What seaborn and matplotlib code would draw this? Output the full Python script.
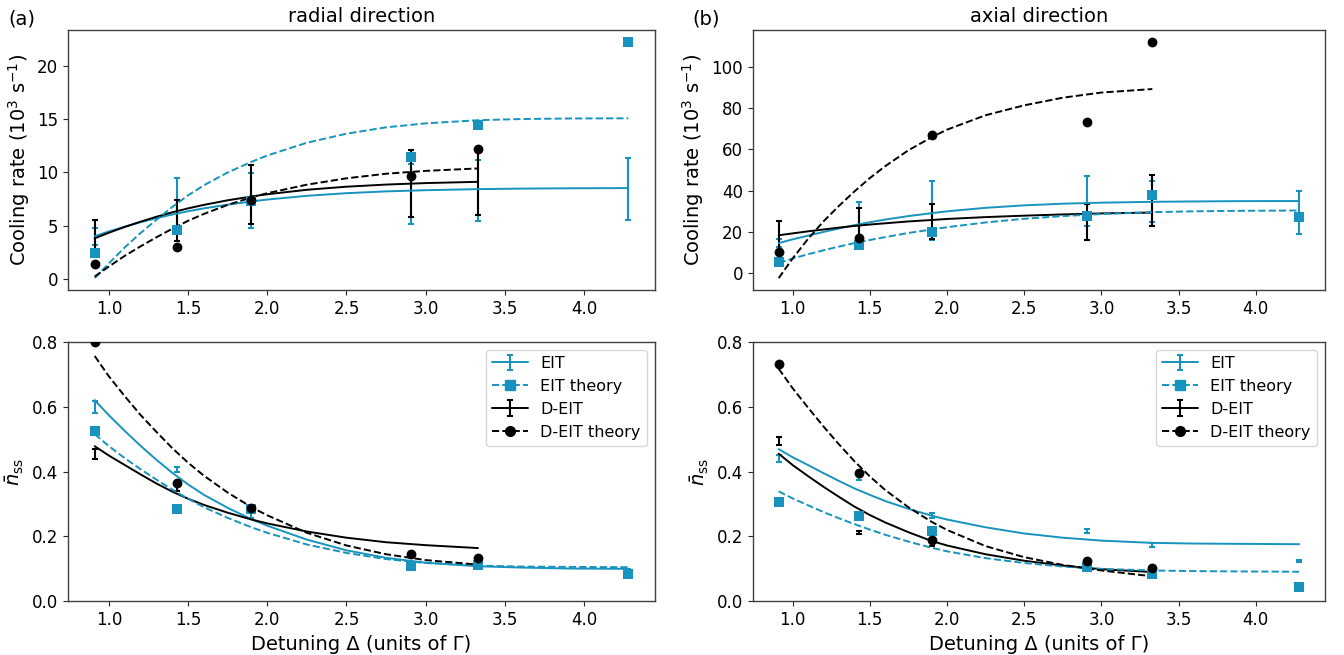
import numpy as np
import matplotlib
matplotlib.use("Agg")
import matplotlib.pyplot as plt
from matplotlib.lines import Line2D
import seaborn as sns

# ---------------- data ----------------
x_eit = [0.91, 1.43, 1.90, 2.91, 3.33, 4.28]
x_deit = [0.91, 1.43, 1.90, 2.91, 3.33]
xc_eit = [0.91, 1.0, 1.1, 1.2, 1.3, 1.4, 1.5, 1.6, 1.75, 1.9, 2.0,
          2.25, 2.5, 2.75, 3.0, 3.33, 3.6, 3.9, 4.28]
xc_deit = [0.91, 1.0, 1.1, 1.2, 1.3, 1.4, 1.5, 1.6, 1.75, 1.9, 2.0,
           2.25, 2.5, 2.75, 3.0, 3.33]
x_ticks = [1.0, 1.5, 2.0, 2.5, 3.0, 3.5, 4.0]
n_ticks = [0.0, 0.2, 0.4, 0.6, 0.8]

# (a) radial, cooling rate (10^3 s^-1)
rad_rate_eit = [4.0, 7.1, 7.36, 8.0, 8.3, 8.45]
rad_rate_eit_err = [0.8, 2.35, 2.58, 2.83, 2.9, 2.95]
rad_rate_deit = [3.8, 5.49, 7.9, 8.96, 9.1]
rad_rate_deit_err = [1.77, 1.93, 2.77, 3.14, 3.1]
rad_rate_eit_th = [2.42, 4.6, 7.27, 11.5, 14.5, 22.3]
rad_rate_deit_th = [1.42, 2.96, 7.4, 9.66, 12.2]
rad_rate_eit_fit = [4.0, 4.45, 4.9, 5.32, 5.7, 6.04, 6.35, 6.62, 6.97, 7.27, 7.45,
                    7.8, 8.05, 8.22, 8.33, 8.43, 8.48, 8.51, 8.53]
rad_rate_deit_fit = [3.8, 4.33, 4.87, 5.37, 5.83, 6.25, 6.62, 6.95, 7.38, 7.74, 7.95,
                     8.37, 8.66, 8.86, 9.0, 9.12]
rad_rate_eit_th_fit = [0.05, 1.45, 2.95, 4.3, 5.55, 6.75, 7.85, 8.8, 10.0, 11.0, 11.6,
                       12.8, 13.65, 14.25, 14.62, 14.92, 15.03, 15.08, 15.1]
rad_rate_deit_th_fit = [0.2, 1.15, 2.15, 3.05, 3.9, 4.7, 5.45, 6.1, 6.95, 7.65, 8.05,
                        8.85, 9.45, 9.88, 10.15, 10.38]

# (b) axial, cooling rate (10^3 s^-1)
ax_rate_eit = [14.4, 24.0, 30.5, 35.1, 34.5, 29.3]
ax_rate_eit_err = [2.0, 10.6, 14.3, 12.1, 10.0, 10.3]
ax_rate_deit = [18.0, 24.0, 25.0, 24.75, 35.3]
ax_rate_deit_err = [7.3, 7.7, 8.6, 8.65, 12.3]
ax_rate_eit_th = [5.3, 13.7, 19.8, 27.4, 37.9, 27.2]
ax_rate_deit_th = [10.2, 16.9, 67.1, 73.2, 112.1]
ax_rate_eit_fit = [14.5, 16.3, 18.1, 19.9, 21.6, 23.2, 24.6, 25.9, 27.6, 29.0, 29.9,
                   31.6, 32.8, 33.6, 34.1, 34.5, 34.7, 34.85, 34.9]
ax_rate_deit_fit = [18.3, 19.2, 20.2, 21.1, 22.0, 22.8, 23.5, 24.1, 25.0, 25.7, 26.2,
                    27.1, 27.8, 28.4, 28.9, 29.3]
ax_rate_eit_th_fit = [4.8, 7.0, 9.1, 11.0, 12.8, 14.5, 16.0, 17.4, 19.4, 21.1, 22.2,
                      24.5, 26.3, 27.6, 28.6, 29.5, 29.9, 30.15, 30.3]
ax_rate_deit_th_fit = [-2.5, 7.0, 16.5, 25.0, 32.5, 39.5, 46.0, 51.8, 59.5, 65.8, 69.5,
                       76.5, 81.3, 85.0, 87.5, 89.2]

# (a) radial, mean phonon number
rad_n_eit = [0.598, 0.405, 0.27, 0.105, 0.11, 0.095]
rad_n_eit_err = [0.019, 0.008, 0.013, 0.01, 0.005, 0.005]
rad_n_deit = [0.455, 0.355, 0.285, 0.145, 0.13]
rad_n_deit_err = [0.015, 0.015, 0.01, 0.008, 0.006]
rad_n_eit_th = [0.524, 0.284, 0.284, 0.11, 0.111, 0.083]
rad_n_deit_th = [0.8, 0.365, 0.289, 0.145, 0.134]
rad_n_eit_fit = [0.62, 0.573, 0.525, 0.479, 0.436, 0.396, 0.36, 0.328, 0.288, 0.253, 0.233,
                 0.19, 0.157, 0.134, 0.119, 0.108, 0.104, 0.101, 0.10]
rad_n_deit_fit = [0.478, 0.449, 0.42, 0.391, 0.363, 0.338, 0.316, 0.297, 0.273, 0.252, 0.24,
                  0.215, 0.196, 0.182, 0.173, 0.164]
rad_n_eit_th_fit = [0.515, 0.478, 0.441, 0.407, 0.375, 0.344, 0.316, 0.29, 0.257, 0.228, 0.211,
                    0.175, 0.149, 0.13, 0.118, 0.11, 0.107, 0.106, 0.105]
rad_n_deit_th_fit = [0.756, 0.693, 0.632, 0.574, 0.522, 0.472, 0.427, 0.387, 0.335, 0.29, 0.265,
                     0.211, 0.172, 0.145, 0.127, 0.113]

# (b) axial, mean phonon number
ax_n_eit = [0.44, 0.385, 0.265, 0.216, 0.173, 0.124]
ax_n_eit_err = [0.012, 0.012, 0.008, 0.006, 0.006, 0.004]
ax_n_deit = [0.493, 0.211, 0.18, 0.1, 0.095]
ax_n_deit_err = [0.012, 0.005, 0.009, 0.005, 0.008]
ax_n_eit_th = [0.305, 0.262, 0.216, 0.105, 0.083, 0.044]
ax_n_deit_th = [0.731, 0.396, 0.189, 0.124, 0.103]
ax_n_eit_fit = [0.469, 0.444, 0.42, 0.395, 0.371, 0.348, 0.328, 0.309, 0.285, 0.264, 0.252,
                0.228, 0.209, 0.196, 0.187, 0.18, 0.178, 0.177, 0.176]
ax_n_deit_fit = [0.455, 0.42, 0.386, 0.353, 0.322, 0.292, 0.266, 0.243, 0.213, 0.186, 0.172,
                 0.145, 0.125, 0.11, 0.099, 0.09]
ax_n_eit_th_fit = [0.339, 0.317, 0.296, 0.275, 0.256, 0.238, 0.221, 0.205, 0.184, 0.165, 0.154,
                   0.133, 0.118, 0.107, 0.1, 0.095, 0.093, 0.092, 0.091]
ax_n_deit_th_fit = [0.717, 0.657, 0.597, 0.539, 0.484, 0.432, 0.385, 0.343, 0.29, 0.245, 0.22,
                    0.17, 0.136, 0.112, 0.095, 0.077]

labels = ["EIT", "EIT theory", "D-EIT", "D-EIT theory"]

# ---------------- style ----------------
sns.set_style("ticks")
plt.rcParams["font.family"] = ["DejaVu Sans"]
plt.rcParams.update({
    "text.color": "black",
    "axes.labelcolor": "black",
    "axes.edgecolor": "0.25",
    "axes.linewidth": 1.0,
    "xtick.major.size": 3.5,
    "ytick.major.size": 3.5,
    "xtick.major.width": 0.8,
    "ytick.major.width": 0.8,
    "xtick.color": "0.15",
    "ytick.color": "0.15",
    "xtick.labelcolor": "black",
    "ytick.labelcolor": "black",
    "xtick.labelsize": 12,
    "ytick.labelsize": 12,
    "axes.labelsize": 14,
    "axes.titlesize": 14,
})

BLUE = "#1793bd"
LW = 1.4

fig = plt.figure(figsize=(13.44, 6.55), dpi=100)
axA = fig.add_axes([0.0506, 0.5573, 0.4368, 0.3969])
axB = fig.add_axes([0.5600, 0.5573, 0.4259, 0.3969])
axC = fig.add_axes([0.0506, 0.0820, 0.4368, 0.3963])
axD = fig.add_axes([0.5600, 0.0820, 0.4259, 0.3963])


def panel(ax, eit, eit_err, deit, deit_err, eit_th, deit_th,
          eit_fit, deit_fit, eit_th_fit, deit_th_fit):
    ax.errorbar(x_eit, eit, yerr=eit_err, fmt="none", ecolor=BLUE,
                capsize=2, elinewidth=1.5, capthick=1.5, zorder=2)
    ax.errorbar(x_deit, deit, yerr=deit_err, fmt="none", ecolor="black",
                capsize=2, elinewidth=1.5, capthick=1.5, zorder=2)
    sns.lineplot(x=xc_eit, y=eit_fit, color=BLUE, lw=LW, ax=ax, sort=False, zorder=3)
    sns.lineplot(x=xc_deit, y=deit_fit, color="black", lw=LW, ax=ax, sort=False, zorder=3)
    sns.lineplot(x=xc_eit, y=eit_th_fit, color=BLUE, lw=LW, ls="--", ax=ax, sort=False, zorder=3)
    sns.lineplot(x=xc_deit, y=deit_th_fit, color="black", lw=LW, ls="--", ax=ax, sort=False, zorder=3)
    sns.scatterplot(x=x_eit, y=eit_th, marker="s", color=BLUE, s=55, linewidth=0, ax=ax, zorder=4)
    sns.scatterplot(x=x_deit, y=deit_th, marker="o", color="black", s=50, linewidth=0, ax=ax, zorder=4)
    ax.set_xticks(x_ticks)
    ax.set_xticklabels([f"{t:.1f}" for t in x_ticks])


panel(axA, rad_rate_eit, rad_rate_eit_err, rad_rate_deit, rad_rate_deit_err,
      rad_rate_eit_th, rad_rate_deit_th, rad_rate_eit_fit, rad_rate_deit_fit,
      rad_rate_eit_th_fit, rad_rate_deit_th_fit)
panel(axB, ax_rate_eit, ax_rate_eit_err, ax_rate_deit, ax_rate_deit_err,
      ax_rate_eit_th, ax_rate_deit_th, ax_rate_eit_fit, ax_rate_deit_fit,
      ax_rate_eit_th_fit, ax_rate_deit_th_fit)
panel(axC, rad_n_eit, rad_n_eit_err, rad_n_deit, rad_n_deit_err,
      rad_n_eit_th, rad_n_deit_th, rad_n_eit_fit, rad_n_deit_fit,
      rad_n_eit_th_fit, rad_n_deit_th_fit)
panel(axD, ax_n_eit, ax_n_eit_err, ax_n_deit, ax_n_deit_err,
      ax_n_eit_th, ax_n_deit_th, ax_n_eit_fit, ax_n_deit_fit,
      ax_n_eit_th_fit, ax_n_deit_th_fit)

for ax in (axA, axB):
    ax.set_ylabel(r"Cooling rate ($10^3$ s$^{-1}$)")
    ax.set_xlabel("")
axA.set_title("radial direction")
axB.set_title("axial direction")
axA.set_yticks([0, 5, 10, 15, 20])
axB.set_yticks([0, 20, 40, 60, 80, 100])

for ax in (axC, axD):
    ax.set_ylim(0, 0.8)
    ax.set_yticks(n_ticks)
    ax.set_yticklabels([f"{t:.1f}" for t in n_ticks])
    ax.set_ylabel(r"$\bar{n}_{\rm ss}$")
    ax.set_xlabel("Detuning Δ (units of Γ)")
    h_eit = ax.errorbar([np.nan], [np.nan], yerr=[np.nan], color=BLUE,
                        capsize=2, lw=LW, elinewidth=1.5, capthick=1.5)
    h_deit = ax.errorbar([np.nan], [np.nan], yerr=[np.nan], color="black",
                         capsize=2, lw=LW, elinewidth=1.5, capthick=1.5)
    h_eit_th = Line2D([], [], color=BLUE, ls="--", lw=LW, marker="s", markersize=7)
    h_deit_th = Line2D([], [], color="black", ls="--", lw=LW, marker="o", markersize=7)
    ax.legend([h_eit, h_eit_th, h_deit, h_deit_th], labels, loc="upper right",
              fontsize=11.5, frameon=True, framealpha=0.8, edgecolor="0.8",
              fancybox=True, handlelength=2.2)

fig.text(0.006, 0.971, "(a)", fontsize=14, va="center", ha="left")
fig.text(0.515, 0.971, "(b)", fontsize=14, va="center", ha="left")

fig.savefig("out.png", dpi=100)
